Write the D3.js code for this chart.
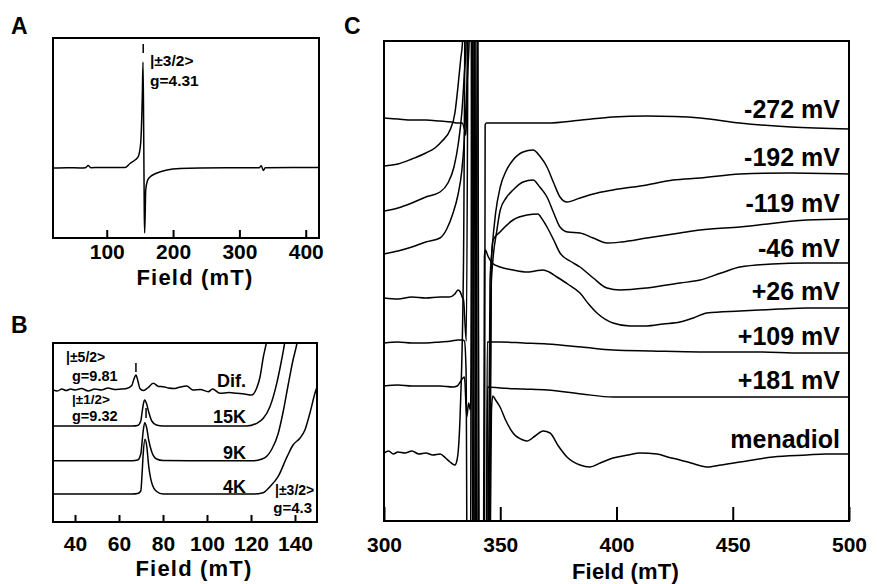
<!DOCTYPE html>
<html>
<head>
<meta charset="utf-8">
<script src="https://cdn.jsdelivr.net/npm/d3@7"></script>
<style>
body { margin: 0; background: #fff; }
text { font-family: "Liberation Sans", Arial, sans-serif; font-weight: bold; fill: #000; }
</style>
</head>
<body>
<svg id="fig" width="877" height="584"></svg>
<script>
// ---- panel A : wide scan, [field mT, intensity]
const traceA = [[19,70],[40,70.3],[60,70],[68,70.3],[72,72.5],[76,70.3],[90,70.5],[110,70.5],[127.5,70.5],
  [135.1,74.5],[142.6,78],[147.6,81.5],[151.2,95],[153.6,141],[154.7,176],[155.7,108],[156.6,25],[157.2,5],
  [158.8,48],[161.2,57],[165.2,61],[175.8,65],[190.9,68],[210.5,69.5],[240.6,70],[300,70.2],[330,70.3],
  [333,72.3],[336,67.5],[339,70.3],[380,70.4],[420,70.5]];
const ticksA = [100, 200, 300, 400];

// ---- panel B : low field region, temperatures and difference
const bDif = [[30,132],[32,131],[34,133],[36,131.5],[38,133],[40,132],[43,133.5],[46,131],[49,133],[52,132],
  [55,134],[58,132.5],[61,133],[63.5,133.5],[65.8,136.5],[66.8,143],[67.7,147],[68.6,141],[69.5,133.5],
  [71,131.5],[73,134],[75.6,138.7],[78,135.5],[80.1,135.3],[82.5,134],[85,133.5],[87,134.5],[90.8,136],
  [93.6,132],[97,132.5],[100.6,130.3],[102.5,133],[105.9,128.7],[110,129.5],[113.5,128.7],[117,128],
  [120.3,127],[122.6,134],[124.1,145],[125.6,165],[127.2,182],[128,195]];
const b15K = [[30,96],[50,96],[66,96],[68.5,96.5],[69.9,101],[70.5,110],[71,117],[71.6,122],[72.5,118.5],
  [73.5,110],[74.9,101],[77,97],[80,96],[100,96],[118,96],[122.6,98.7],[125.6,103.7],[128.6,115.3],
  [131.7,138.7],[133.9,162],[135.5,182],[136.5,200]];
const b9K = [[30,61.3],[50,61.3],[66,61.3],[68.5,62],[69.9,68],[70.5,80],[71,91],[71.7,99.3],[72.6,94],
  [73.5,82],[74.9,70],[77.1,63],[80,61.5],[100,61.3],[121,61.3],[125,63],[127.3,66],[129.5,73],[132.3,88],
  [134.5,109],[136.8,136],[139.1,162],[140.9,179],[142,195]];
const b4K = [[30,28],[50,28],[66,28],[68.5,28.5],[69.9,31],[70.5,48.7],[71,68],[71.8,82.7],[72.6,76],
  [73.5,56],[74.9,39],[77.1,30.5],[80,28],[100,28],[121,28],[125.5,29.3],[128.6,35.3],[132.3,45.3],
  [136.4,65.3],[139.1,77],[142.3,84],[144.5,92],[146.8,109],[149.1,129],[150,135]];
const labelsB = ["Dif.", "15K", "9K", "4K"];
const ticksB = [40, 60, 80, 100, 120, 140];

// ---- panel C : g=2 region, redox titration (stacked)
const cM272 = [[300,403],[306,402],[312,401],[318,401],[324,400],[329,399],[331.8,398],[333.6,398],[334.6,392],
  [335.2,386],[335.7,420],[336.1,700],[337.9,700],[338.9,-200],[343.1,-200],[343.5,396],[344,398],[350,398],
  [360,398],[370,398],[385,401],[398.5,404],[413,405],[425,404.5],[436,403],[453,398],[475,394],[500,392]];
const cM192 = [[300,355],[306,357],[312,362],[318,368],[321.9,373],[325,380],[328.4,391],[330.5,408],[331.8,434],
  [333,462],[333.8,480],[334.5,700],[337.2,700],[338.4,-200],[344.2,-200],[345.6,240],[346.5,272],[348,308],
  [350,334],[352.5,350],[355.5,361],[359.8,369],[364.1,371],[367,365],[370.1,354],[373,338],[375.7,324],
  [378.7,319],[384.3,323],[390,327],[398.5,331],[413.1,336],[424.3,341],[436,343],[453.1,347],[474.6,348],[500,347]];
const cM119 = [[300,310],[306,313],[312,318],[318,324],[324.1,329],[327.5,338],[330.1,354],[332,378],[333.5,409],
  [334.5,445],[335.3,479],[336,700],[337.8,700],[339.2,-200],[344.6,-200],[346,230],[346.8,260],[348.5,290],
  [350,311],[352.5,323],[355.5,331],[359.8,339],[364.1,341],[367,334],[370.1,324],[373,308],[375.7,294],
  [379,289],[384.3,288],[390,283],[395.9,278],[402,279],[413.1,283],[427.3,288],[436,291],[453.1,294],
  [481.9,301],[500,302]];
const cM46 = [[300,267],[306,270],[312,274],[318,279],[324.1,283],[327,292],[329.7,308],[331.8,326],[333.5,351],
  [334.5,380],[335.3,417],[336,450],[336.6,479],[337.2,700],[338.4,700],[339.8,-200],[345,-200],[346.2,260],
  [346.9,281],[349.9,289],[355.5,301],[361.5,306],[366.2,307],[368,302],[370.1,294],[373,281],[375.7,268],
  [380,260],[384.3,254],[390,243],[395.9,233],[401.5,231],[413.1,233],[427.3,238],[436,241],[445,248],
  [453.1,254],[467,257],[481.9,258],[500,258]];
const cP26 = [[300,223],[306,222],[312,224],[318,223],[324.1,224],[328,224],[330.5,227],[331.8,231],[332.8,229],
  [333.6,224],[334.2,221],[335.4,180],[336.6,700],[339.2,700],[340.4,-200],[342.6,-200],[343.2,265],[343.6,271],
  [344.7,265],[346.5,258],[349.9,254],[355.5,251],[361.5,249],[365,250],[368.4,251],[371,249],[374.4,244],
  [379,237],[384.3,228],[388,217],[391.6,208],[398.5,198],[405.8,195],[413,195],[420,197],[427.3,199],
  [433,203],[438.9,208],[453.1,210],[470,212],[481.9,213],[500,213]];
const cP109 = [[300,178],[306,179],[312,178],[318,178],[324.1,179],[329,180],[331.8,181],[333.6,181],[334.6,180],
  [335.3,150],[336,-200],[337,-200],[338,700],[340,700],[341,-200],[343.9,-200],[344.4,179],[350,179],
  [360,178],[370.1,177],[385,174],[398.5,171],[415,170],[435.9,169],[460,169],[480,168],[500,168]];
const cP181 = [[300,135],[306,136],[312,135],[318,135],[324,135],[329.7,134],[331.5,135],[332.8,139],[333.6,142],
  [334.6,144],[335.6,104],[336.4,118],[337.1,111],[337.6,150],[338.5,700],[340,700],[341.2,-200],[344,-200],
  [344.5,134],[350,133],[360,132],[370.1,131],[385,127],[398.5,124],[420,124],[435.9,124],[460,124],[500,124]];
const cMenadiol = [[300,68],[302,70],[304,67],[306,69],[309,68],[312,70],[315,67],[318,68],[321,66],[324.1,67],
  [326.5,63],[328.4,59],[330.5,56],[331.5,62],[332.8,110],[334.2,260],[335.4,700],[338.6,700],[340.2,-200],
  [345,-200],[346.2,110],[346.8,125],[348,121],[349.9,114],[352.5,100],[355.5,88],[359.8,81],[361.5,80],
  [365,85],[368.4,90],[371.4,88],[375,75],[378.7,64],[384.3,56],[388.6,54],[393,58],[398.5,63],[405,66],
  [410.1,68],[417.4,67],[422,64],[427.3,61],[432,58],[438.9,54],[445,56],[453.1,59],[467.3,64],[481.9,66],
  [490,67],[500,67]];
const labelsC = ["-272 mV", "-192 mV", "-119 mV", "-46 mV", "+26 mV", "+109 mV", "+181 mV", "menadiol"];
const ticksC = [300, 350, 400, 450, 500];

const svg = d3.select("#fig");

function drawPanel(p) {
  const g = svg.append("g");
  const x = d3.scaleLinear().domain(p.xDomain).range([p.left, p.left + p.width]);
  const y = d3.scaleLinear().domain(p.yDomain).range([p.top + p.height, p.top]);

  g.append("clipPath").attr("id", "clip" + p.id)
    .append("rect")
    .attr("x", p.left).attr("y", p.top)
    .attr("width", p.width).attr("height", p.height);

  const line = d3.line().x(d => x(d[0])).y(d => y(d[1])).curve(d3.curveMonotoneX);
  g.append("g").attr("clip-path", `url(#clip${p.id})`)
    .selectAll("path")
    .data(p.traces)
    .join("path")
    .attr("d", line)
    .attr("fill", "none")
    .attr("stroke", "#000")
    .attr("stroke-width", p.lw)
    .attr("stroke-linejoin", "round");

  // bottom axis, ticks pointing inward
  const axis = d3.axisBottom(x).tickValues(p.ticks)
    .tickSizeInner(-p.tickSize).tickSizeOuter(0).tickPadding(p.tickPad)
    .tickFormat(d3.format("d"));
  const ax = g.append("g").attr("transform", `translate(0,${p.top + p.height})`).call(axis);
  ax.select(".domain").remove();
  ax.selectAll("line").attr("stroke", "#000").attr("stroke-width", 2);
  ax.selectAll("text").style("font-size", p.tickFont + "px").style("font-family", '"Liberation Sans", Arial, sans-serif')
    .style("font-weight", "bold").attr("fill", "#000");

  // frame
  g.append("rect")
    .attr("x", p.left).attr("y", p.top)
    .attr("width", p.width).attr("height", p.height)
    .attr("fill", "none").attr("stroke", "#000").attr("stroke-width", 2);

  // axis title
  g.append("text")
    .attr("x", p.left + p.width / 2 + 9)
    .attr("y", p.titleY)
    .attr("text-anchor", "middle")
    .style("font-size", p.titleSize + "px")
    .style("letter-spacing", p.titleSpacing + "px")
    .text("Field (mT)");

  // panel letter
  g.append("text").attr("x", p.letterX).attr("y", p.letterY)
    .style("font-size", "23px").text(p.id);

  return { x, y, g };
}

function note(g, xx, yy, txt, size, anchor) {
  g.append("text").attr("x", xx).attr("y", yy)
    .attr("text-anchor", anchor || "start")
    .style("font-size", size + "px").text(txt);
}

// ---------- A
const A = drawPanel({ id: "A", left: 53, top: 38, width: 266, height: 200,
  xDomain: [19, 420], yDomain: [0, 200], ticks: ticksA, tickSize: 8, tickPad: 6, tickFont: 21,
  traces: [traceA], lw: 1.5, titleY: 285, titleSize: 22, titleSpacing: 1.2, letterX: 11, letterY: 34 });
A.g.append("line").attr("x1", A.x(155)).attr("x2", A.x(155))
  .attr("y1", 44).attr("y2", 53).attr("stroke", "#000").attr("stroke-width", 1.5);
note(A.g, 150, 66, "|±3/2>", 15.5);
note(A.g, 150, 86, "g=4.31", 15.5);

// ---------- B
const B = drawPanel({ id: "B", left: 53, top: 343, width: 264, height: 179,
  xDomain: [30, 150], yDomain: [0, 179], ticks: ticksB, tickSize: 7, tickPad: 14, tickFont: 21,
  traces: [bDif, b15K, b9K, b4K], lw: 1.5, titleY: 576, titleSize: 22, titleSpacing: 1.2, letterX: 11, letterY: 333 });
[[67.7, 363, 372], [72.3, 408, 418]].forEach(m => {
  B.g.append("line").attr("x1", B.x(m[0])).attr("x2", B.x(m[0]))
    .attr("y1", m[1]).attr("y2", m[2]).attr("stroke", "#000").attr("stroke-width", 1.5);
});
note(B.g, 66, 362, "|±5/2>", 14);
note(B.g, 72, 381, "g=9.81", 14.5);
note(B.g, 72, 404, "|±1/2>", 13.5);
note(B.g, 72, 421, "g=9.32", 14.5);
note(B.g, 275, 495, "|±3/2>", 14);
note(B.g, 312, 513, "g=4.3", 15, "end");
[387, 423, 459, 493].forEach((yy, i) => note(B.g, 246, yy, labelsB[i], 18, "end"));

// ---------- C
const C = drawPanel({ id: "C", left: 384, top: 41, width: 465, height: 480,
  xDomain: [300, 500], yDomain: [0, 480], ticks: ticksC, tickSize: 14, tickPad: 16, tickFont: 21,
  traces: [cM272, cM192, cM119, cM46, cP26, cP109, cP181, cMenadiol], lw: 1.5,
  titleY: 579, titleSize: 22, titleSpacing: 0.2, letterX: 344, letterY: 34 });
[118, 166, 212, 257, 300, 345, 389, 448].forEach((yy, i) => note(C.g, 840, yy, labelsC[i], 25, "end"));
</script>
</body>
</html>
